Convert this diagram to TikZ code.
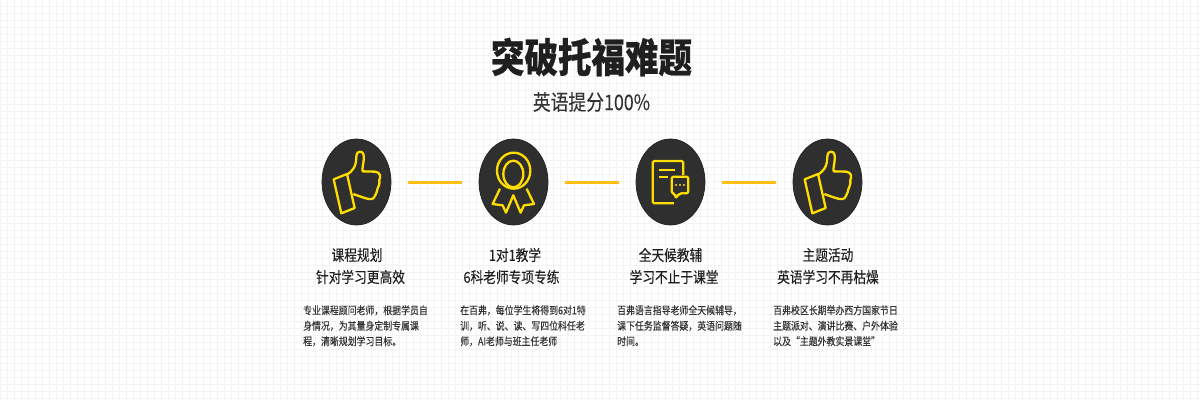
\documentclass[tikz,border=0pt]{standalone}
\usepackage{fontspec}
\newfontfamily\cjk[BoldFeatures={FakeBold=0.5}]{Noto Sans CJK SC}
\newfontfamily\cjkm[FakeBold=0.2]{Noto Sans CJK SC}
\newfontfamily\cjkh[FakeBold=0.1]{Noto Sans CJK SC}
\usetikzlibrary{shapes.geometric}
\definecolor{gridc}{HTML}{F3F3F3}
\definecolor{disc}{HTML}{2F2F2F}
\definecolor{iconc}{HTML}{FFDD00}
\definecolor{linkc}{HTML}{FDC010}
\tikzset{
  x=1pt,y=-1pt,
  badge/.style={ellipse,fill=disc,draw=disc!70!black,line width=.7pt,minimum width=69pt,minimum height=86pt,inner sep=0pt},
  link/.style={draw=linkc,line width=3pt,shorten <=16.5pt,shorten >=16.5pt},
  icon/.style={draw=iconc,line width=2.3pt,line join=round},
  zoomA/.style={shift={(300,130)},x=.3333pt,y=-.3333pt},
  zoomB/.style={shift={(600,130)},x=.3333pt,y=-.3333pt},
  title/.style={font={\cjk\bfseries\fontsize{33.5}{36}\selectfont},text=black!88,inner sep=0pt,transform shape,yscale=1.2},
  sub/.style={font={\cjkh\fontsize{17.8}{20}\selectfont},text=black!80,inner sep=0pt,transform shape,yscale=1.2},
  head/.style={font={\cjkh\fontsize{12.7}{14}\selectfont},text=black!88,inner sep=0pt,transform shape,yscale=1.2},
  body/.style={font={\cjkm\fontsize{8.9}{12.9}\selectfont},text=black!80,inner sep=0pt,anchor=north west,align=left,transform shape,yscale=1.2},
}
\begin{document}
\begin{tikzpicture}
\useasboundingbox (0,0) rectangle (1200,400);
\fill[white] (0,0) rectangle (1200,400);
\foreach \gx in {0,7,...,1197} \draw[gridc,line width=.8pt] (\gx+.5,0) -- (\gx+.5,400);
\foreach \gy in {0,7,...,399} \draw[gridc,line width=.8pt] (0,\gy-.5) -- (1200,\gy-.5);

\node[title] (t) at (591.5,57) {突破托福难题};
\node[sub] (s) at (591.5,102) {英语提分100\%};

\node[badge] (c1) at (356.5,182) {};
\node[badge] (c2) at (513.5,182) {};
\node[badge] (c3) at (670.5,182) {};
\node[badge] (c4) at (827.5,182) {};
\draw[link] (c1) -- (c2);
\draw[link] (c2) -- (c3);
\draw[link] (c3) -- (c4);

% thumb icons
\foreach \ox/\sc in {0/zoomA,471/zoomA}{
\begin{scope}[xshift=\ox pt,\sc]
\draw[icon] (101,148) -- (141,132) -- (164,234) -- (124,250) -- cycle;
\draw[icon] (143,133) .. controls (158,122) and (166,110) .. (168,95)
 .. controls (169,80) and (168,65) .. (180,65) .. controls (192,65) and (192,78) .. (191,90)
 .. controls (190,105) and (186,115) .. (188,124) -- (226,125)
 .. controls (241,127) and (243,140) .. (238,150) .. controls (240,165) and (234,170) .. (232,178)
 .. controls (231,190) and (224,196) .. (222,203) .. controls (216,211) and (205,209) .. (160,192);
\end{scope}}

% medal
\begin{scope}[zoomA]
\draw[icon] (641,122) ellipse [x radius=50,y radius=54];
\draw[icon] (640,132) ellipse [x radius=30,y radius=40];
\draw[icon] (600,176) -- (578,222) -- (608,226) -- (618,248) -- (640,196) -- (662,248) -- (672,226) -- (702,222) -- (680,176);
\end{scope}

% document with speech bubble
\begin{scope}[zoomB]
\draw[icon,rounded corners=1.5pt] (250,135) -- (250,93) -- (158,93) -- (158,220) -- (222,220);
\draw[icon] (178,120) -- (225,120);
\draw[icon] (178,142) -- (205,142);
\draw[icon,rounded corners=2pt] (215,140) -- (265,140) -- (265,190) -- (238,190) -- (227,205) -- (225,190) -- (215,190) -- cycle;
\foreach \dx in {228,240,252} \fill[iconc] (\dx,165) circle [radius=3.5];
\end{scope}

\node[head] (h1a) at (357,255) {课程规划};
\node[head] (h1b) at (360.5,277) {针对学习更高效};
\node[head] (h2a) at (515,255) {1对1教学};
\node[head] (h2b) at (511.5,277) {6科老师专项专练};
\node[head] (h3a) at (670.5,255) {全天候教辅};
\node[head] (h3b) at (674,277) {学习不止于课堂};
\node[head] (h4a) at (828,255) {主题活动};
\node[head] (h4b) at (828,277) {英语学习不再枯燥};

\node[body] (b1) at (303,305) {专业课程顾问老师，根据学员自\\身情况，为其量身定制专属课\\程，清晰规划学习目标。};
\node[body] (b2) at (460,305) {在百弗，每位学生将得到6对1特\\训，听、说、读、写四位科任老\\师，AI老师与班主任老师};
\node[body] (b3) at (617,305) {百弗语言指导老师全天候辅导，\\课下任务监督答疑，英语问题随\\时间。};
\node[body] (b4) at (773,305) {百弗校区长期举办西方国家节日\\主题派对、演讲比赛、户外体验\\以及“主题外教实景课堂”};
\end{tikzpicture}
\end{document}
